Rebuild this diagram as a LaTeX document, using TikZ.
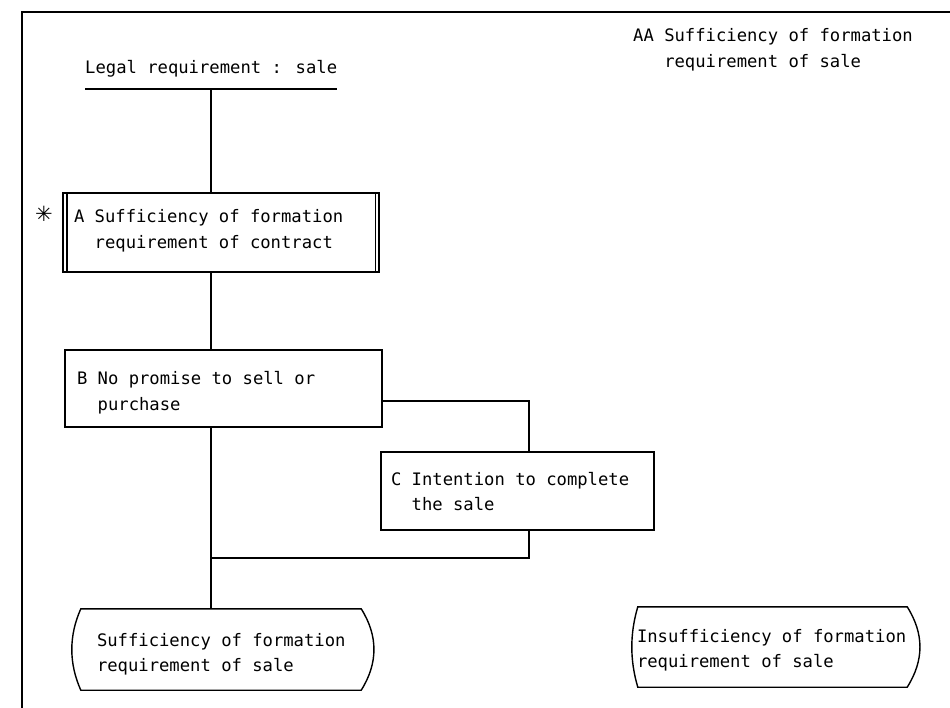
\documentclass[tikz,border=0pt]{standalone}
\usepackage{fontspec}
\setmainfont{DejaVu Sans Mono}[WordSpace={1,0,0}]
\newfontfamily\symbolfont{DejaVu Sans}
\begin{document}
\begin{tikzpicture}[x=1pt,y=-1pt,
  every node/.style={font=\fontsize{17.2}{25.5}\selectfont, inner sep=0pt},
  rule/.style={line width=1.4pt},
  frame/.style={line width=1.8pt},
  stepbox/.style={draw, line width=1.4pt, align=flush left, text height=13pt},
  terminal/.style={align=flush left, text height=13pt},
  outline/.style={line width=1.4pt},
  vpos/.style={text depth=#1pt},
]
\useasboundingbox (0,0) rectangle (950,708);

% open frame: left and top edges only
\draw[frame] (22,708) -- (22,12) -- (950,12);

% heading and note
\node[anchor=base west, text depth=15pt] (title) at (85,74) {Legal requirement : sale};
\draw[rule] (title.south west) -- (title.south east);
\node[anchor=base west, text width=295pt, align=flush left] (aa) at (633,42)
  {AA Sufficiency of formation\\\hphantom{AAA}requirement of sale};

% process boxes
\node[stepbox, vpos=32, minimum width=316pt, minimum height=79pt,
      inner xsep=11pt, text width=294pt] (A) at (221,232.5)
  {A Sufficiency of formation\\\hphantom{AA}requirement of contract};
\draw[rule] ([xshift=4.5pt]A.north west) -- ([xshift=4.5pt]A.south west);
\draw[rule] ([xshift=-4.5pt]A.north east) -- ([xshift=-4.5pt]A.south east);
\node[font=\symbolfont\fontsize{21}{21}\selectfont] (star) at (44,214) {✳};

\node[stepbox, vpos=21, minimum width=317pt, minimum height=77pt,
      inner xsep=12pt, text width=293pt] (B) at (223.5,388.5)
  {B No promise to sell or\\\hphantom{AA}purchase};

\node[stepbox, vpos=25, minimum width=273pt, minimum height=78pt,
      inner xsep=10pt, text width=253pt] (C) at (517.5,491)
  {C Intention to complete\\\hphantom{AA}the sale};

% terminal nodes
\node[terminal, vpos=20, minimum width=302pt, minimum height=81pt,
      inner xsep=25pt, text width=252pt] (S) at (223,649.5)
  {Sufficiency of formation\\requirement of sale};
\draw[outline] ([xshift=9pt]S.north west) -- ([xshift=-13pt]S.north east)
  .. controls +(17,27) and +(17,-27) .. ([xshift=-13pt]S.south east)
  -- ([xshift=9pt]S.south west)
  .. controls +(-12,-27) and +(-12,27) .. ([xshift=9pt]S.north west) -- cycle;

\node[terminal, vpos=23, minimum width=288pt, minimum height=80pt,
      inner xsep=5pt, text width=278pt] (I) at (776,647)
  {Insufficiency of formation\\requirement of sale};
\draw[outline] ([xshift=6pt]I.north west) -- ([xshift=-13pt]I.north east)
  .. controls +(17,27) and +(17,-27) .. ([xshift=-13pt]I.south east)
  -- ([xshift=6pt]I.south west)
  .. controls +(-8,-27) and +(-8,27) .. ([xshift=6pt]I.north west) -- cycle;

% connectors
\coordinate (spine) at (211,0);
\coordinate (cx) at (529,0);
\coordinate (j) at (211,558);
\draw[rule] (spine |- title.south) -- (spine |- A.north);
\draw[rule] (spine |- A.south) -- (spine |- B.north);
\draw[rule] ([yshift=-12.5pt]B.east) -| (cx |- C.north);
\draw[rule] (spine |- B.south) -- (spine |- S.north);
\draw[rule] (cx |- C.south) |- (j);
\end{tikzpicture}
\end{document}
